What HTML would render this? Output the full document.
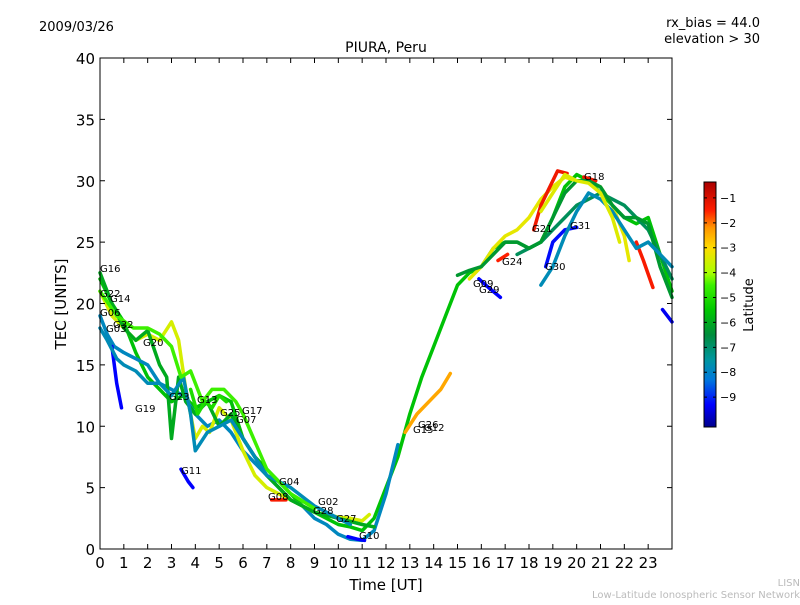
<!DOCTYPE html>
<html><head><meta charset="utf-8"><style>
body{margin:0;background:#fff;}
svg text{font-family:"DejaVu Sans","Liberation Sans",sans-serif;}
</style></head><body>
<svg id="c" width="800" height="600" xmlns="http://www.w3.org/2000/svg">
<defs><linearGradient id="jet" x1="0" y1="1" x2="0" y2="0"></linearGradient></defs>
<text x="39" y="31" font-size="13">2009/03/26</text>
<text x="760" y="27" font-size="13" text-anchor="end">rx_bias = 44.0</text>
<text x="760" y="43" font-size="13" text-anchor="end">elevation &gt; 30</text>
<text x="386" y="52" font-size="14" text-anchor="middle">PIURA, Peru</text>
<g id="marks"></g>
<rect x="100" y="58" width="572" height="491" fill="none" stroke="#000" stroke-width="1"/>
<g id="axes"></g>
<text x="386" y="590" font-size="15" text-anchor="middle">Time [UT]</text>
<text x="66" y="304" font-size="15" text-anchor="middle" transform="rotate(-90 66 304)">TEC [UNITS]</text>
<rect x="704" y="182" width="12" height="245" fill="url(#jet)" stroke="#000" stroke-width="1"/>
<g id="cbticks"></g>
<text x="753" y="305" font-size="13" text-anchor="middle" transform="rotate(-90 753 305)">Latitude</text>
<text x="800" y="586" font-size="10" fill="#bbb" text-anchor="end">LISN</text>
<text x="800" y="598" font-size="10" fill="#bbb" text-anchor="end">Low-Latitude Ionospheric Sensor Network</text>
</svg>
<script>
const xTicks=[0,1,2,3,4,5,6,7,8,9,10,11,12,13,14,15,16,17,18,19,20,21,22,23];
const yTicks=[0,5,10,15,20,25,30,35,40];
const cbTicks=[-1,-2,-3,-4,-5,-6,-7,-8,-9];
const sNames=["g-main","g-dark","cyan-a","yellow-a","yellow-b","orange-mid","red-a","red-b","red-c","red-d","blue-a","blue-b","blue-c","blue-d","blue-e","blue-f","green-left","cyan-left","lime-left","green-late","cyan-late","yellow-late","red-e","lime-mid"];
const sLat=[-5.6,-6.8,-7.9,-3.5,-3.3,-2.4,-1.3,-1.3,-1.4,-1.4,-9.3,-9.3,-9.3,-9.2,-9.4,-9.3,-6.0,-7.8,-4.5,-6.3,-7.8,-3.4,-1.5,-5];
const sT=[
[0,0.5,1,1.5,2,2.5,3,3.5,4,4.5,5,5.5,6,6.5,7,7.5,8,8.5,9,9.5,10,10.5,11,11.5,12,12.5,13,13.5,14,14.5,15,15.5,16,16.5,17,17.5,18,18.5,19,19.5,20,20.5,21,21.5,22,22.5,23,23.5,24],
[17.5,18,18.5,19,19.5,20,20.5,21,21.5,22,22.5,23,23.5,24],
[0,0.3,0.6,1,1.5,2,2.5,3,3.5,4,4.5,5,5.5,6,6.5,7,7.5,8,8.5,9,9.5,10,10.5,11,11.5,12,12.5],
[0,0.5,1,1.5,2,2.5,3,3.3,3.6,4,4.3,4.6,5,5.5,6,6.5,7,7.5,8,8.5,9,9.5,10,10.5,11,11.3],
[15.5,16,16.5,17,17.5,18,18.5,19,19.5,20,20.5,21,21.5,22,22.2],
[12.8,13.3,13.8,14.3,14.7],
[18.2,18.5,19.2,19.6],
[20.3,20.8],
[22.5,22.8,23.2],
[7.2,7.8],
[0.5,0.7,0.9],
[10.4,10.8,11.1],
[15.9,16.3,16.8],
[18.7,19,19.5,20],
[23.6,24],
[3.4,3.7,3.9],
[0,0.5,1,1.5,2,2.5,2.8,3,3.3,3.6,4,4.5,5,5.5,6,6.5,7,7.5,8,9,10,11,11.5],
[0,0.3,0.7,1,1.5,2,2.5,3,3.5,3.8,4,4.5,5,5.5,6,7,8,9,10,10.5],
[0,0.7,1.4,2,2.5,3,3.4,3.8,4.3,4.7,5.2,5.7,6,7,8,9],
[15,15.5,16,16.5,17,17.5,18,18.5,19,19.5,20,20.5,21,21.5,22,22.5,23,23.5,24],
[18.5,19,19.5,20,20.5,21,21.5,22,22.5,23,23.5,24],
[18.5,19,19.5,20,20.5,21,21.5,21.8],
[16.7,17.1],
[3.8,4.1,4.4,4.7,5,5.3]
];
const sV=[
[22,20,18.5,16,14,13,12,12.5,11.5,12,12.5,12,9,7.5,6.5,5.5,4.5,3.5,3,2.5,2,1.8,1.5,2.5,5,7.5,11,14,16.5,19,21.5,22.5,23,24.5,25,25,24.5,25,27,29.5,30.5,30,29,28,27,26.5,27,24,21],
[24,24.5,25,26,27,28,28.5,29,28.5,28,27,26,24,22],
[19,17.5,16.5,16,15.5,15,13.5,13,12.5,11,10,10.5,9.5,8,7,6,5,4,3.5,2.5,2,1.2,0.8,0.7,1.5,4.5,8.5],
[21,19,18,17,17.5,17,18.5,17,13,9,10,9.5,11.5,10.5,8,6,5,4.5,4,3.5,3,2.8,2.6,2.5,2.3,2.8],
[22,23,24.5,25.5,26,27,28.5,29.5,30.3,30,30,29.5,28,25.5,23.5],
[9.5,11,12,13,14.3],
[26,28,30.8,30.6],
[30.3,30],
[25,23.5,21.3],
[4,4],
[16.5,13.5,11.5],
[1,0.8,0.7],
[22,21.3,20.5],
[23,25,26,26.2],
[19.5,18.5],
[6.5,5.5,5],
[22.5,20,18,17,17.8,15,14,9,14,12,11,12,10,11,9,7.5,6,5,4,3,2.5,2,1.8],
[18,17,15.5,15,14.5,13.5,13.5,12.5,14,11,8,9.5,10,10.5,9,6,5,3.5,2.5,2],
[21,19,18,18,17.5,16.5,14,14.5,12,13,13,12,11,6.5,4.5,3.3],
[22.3,22.7,23,24,25,25,24.5,25,27,29,30,30,29.5,28,27,27,26.5,23,20.5],
[21.5,23,25.5,27.5,29,28.5,27.5,26,24.5,25,24,23],
[27.5,29,30.5,30,29.8,29,27,25],
[23.5,24],
[13,11,12,11.5,12.5,12]
];
const labels=[["G16",100,272],["G22",100,297],["G14",110,302],["G06",100,316],["G32",113,328],["G03",106,332],["G20",143,346],["G19",135,412],["G23",169,400],["G13",197,403],["G25",220,416],["G17",242,414],["G07",236,423],["G11",181,474],["G04",279,485],["G08",268,500],["G02",318,505],["G28",313,514],["G27",336,522],["G10",359,539],["G15",413,433],["G26",418,428],["G12",424,431],["G09",473,287],["G29",479,293],["G24",502,265],["G21",532,232],["G30",545,270],["G31",570,229],["G18",584,180]];
const X0=100,X1=672,Y0=549,Y1=58;
function xs(t){return X0+(t/24)*(X1-X0);}
function ys(v){return Y0-(v/40)*(Y0-Y1);}
function cbY(l){return 427-(l+10.2)/9.84*245;}
const cmap=[[-10.2,0,0,140],[-9.3,0,0,255],[-8.3,0,120,220],[-7.5,0,150,160],[-6.5,0,140,60],[-5.5,0,200,0],[-4.5,60,240,0],[-4,170,255,0],[-3,255,220,0],[-2.2,255,150,0],[-1.5,255,30,0],[-0.36,170,0,0]];
function jet(l){
 if(l<=cmap[0][0])return `rgb(${cmap[0][1]},${cmap[0][2]},${cmap[0][3]})`;
 for(let i=1;i<cmap.length;i++){if(l<=cmap[i][0]){const a=cmap[i-1],b=cmap[i],f=(l-a[0])/(b[0]-a[0]);
  return `rgb(${Math.round(a[1]+f*(b[1]-a[1]))},${Math.round(a[2]+f*(b[2]-a[2]))},${Math.round(a[3]+f*(b[3]-a[3]))})`;}}
 const z=cmap[cmap.length-1];return `rgb(${z[1]},${z[2]},${z[3]})`;}
const NS="http://www.w3.org/2000/svg";
const grad=document.getElementById('jet');
cmap.forEach(s=>{const st=document.createElementNS(NS,'stop');st.setAttribute('offset',((s[0]+10.2)/9.84).toFixed(3));st.setAttribute('stop-color',`rgb(${s[1]},${s[2]},${s[3]})`);grad.appendChild(st);});
const marks=document.getElementById('marks'),axes=document.getElementById('axes'),cbt=document.getElementById('cbticks');
sNames.forEach((n,i)=>{
 const p=document.createElementNS(NS,'polyline');
 p.setAttribute('points',sT[i].map((t,j)=>xs(t).toFixed(1)+','+ys(sV[i][j]).toFixed(1)).join(' '));
 p.setAttribute('fill','none');p.setAttribute('stroke',jet(sLat[i]));p.setAttribute('stroke-width','3.5');
 p.setAttribute('stroke-linejoin','round');p.setAttribute('stroke-linecap','round');
 
 
 marks.appendChild(p);
});
labels.forEach(l=>{
 const t=document.createElementNS(NS,'text');
 t.setAttribute('x',l[1]);t.setAttribute('y',l[2]);t.setAttribute('font-size','10');t.textContent=l[0];
 
 
 marks.appendChild(t);
});
xTicks.forEach(v=>{
 const x=xs(v);
 const l=document.createElementNS(NS,'path');
 l.setAttribute('d',`M${x},549v-5M${x},58v5`);l.setAttribute('stroke','#000');
 
 
 axes.appendChild(l);
 const t=document.createElementNS(NS,'text');
 t.setAttribute('x',x);t.setAttribute('y',568);t.setAttribute('font-size','15');t.setAttribute('text-anchor','middle');t.textContent=v;
 
 
 axes.appendChild(t);
});
yTicks.forEach(v=>{
 const y=ys(v);
 const l=document.createElementNS(NS,'path');
 l.setAttribute('d',`M100,${y}h5M672,${y}h-5`);l.setAttribute('stroke','#000');
 
 
 axes.appendChild(l);
 const t=document.createElementNS(NS,'text');
 t.setAttribute('x',95);t.setAttribute('y',y+6);t.setAttribute('font-size','15');t.setAttribute('text-anchor','end');t.textContent=v;
 
 
 axes.appendChild(t);
});
cbTicks.forEach(v=>{
 const y=cbY(v);
 const l=document.createElementNS(NS,'path');
 l.setAttribute('d',`M704,${y}h3M716,${y}h-3`);l.setAttribute('stroke','#000');
 
 
 cbt.appendChild(l);
 const t=document.createElementNS(NS,'text');
 t.setAttribute('x',720);t.setAttribute('y',y+4);t.setAttribute('font-size','11');t.textContent='\u2212'+Math.abs(v);
 
 
 cbt.appendChild(t);
});
</script>
</body></html>
